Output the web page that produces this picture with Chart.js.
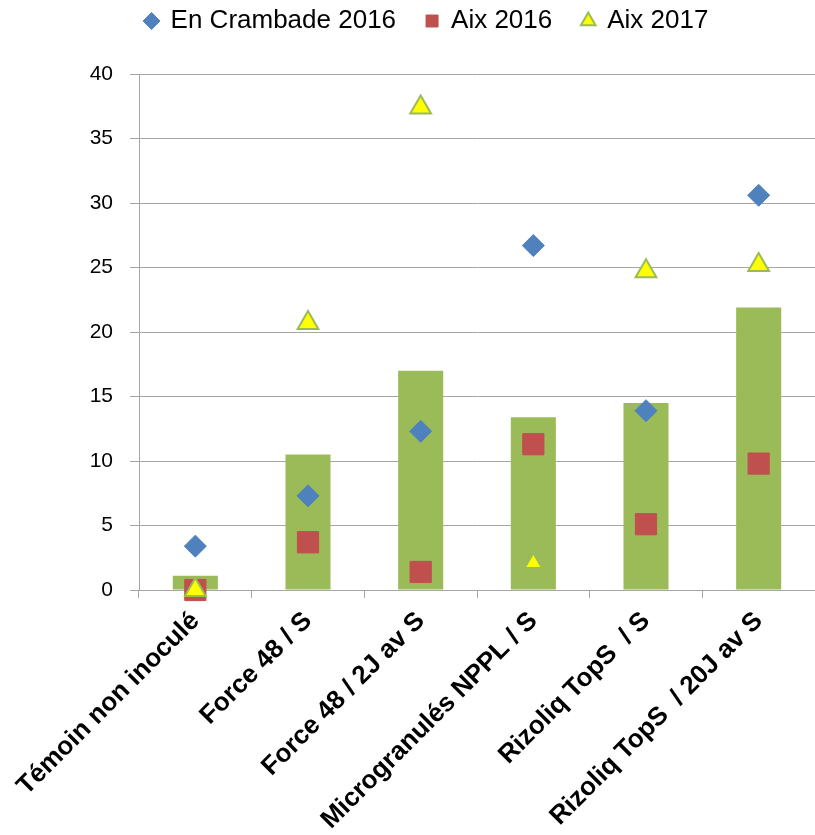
<!DOCTYPE html>
<html lang="fr">
<head>
<meta charset="utf-8">
<title>Essai inoculation</title>
<script src="https://cdn.jsdelivr.net/npm/chart.js@4/dist/chart.umd.min.js"></script>
<style>
  html, body { margin: 0; padding: 0; background: #fff; overflow: hidden; }
  .chart-area { position: relative; width: 815px; height: 835px; }
  #inoculChart { display: block; }
</style>
</head>
<body>
<div class="chart-area">
  <canvas id="inoculChart"></canvas>
</div>
<script>
// Modalités testées
const categories = [
    'Témoin non inoculé',
    'Force 48 / S',
    'Force 48 / 2J av S',
    'Microgranulés NPPL / S',
    'Rizoliq TopS  / S',
    'Rizoliq TopS  / 20J av S'
];

// Moyenne (barres)
const moyenne = [1.1, 10.5, 17.0, 13.4, 14.5, 21.9];

// Résultats par site / année
const enCrambade2016 = [3.4, 7.3, 12.3, 26.7, 13.9, 30.6];
const aix2016 = [0, 3.7, 1.4, 11.3, 5.1, 9.8];
const aix2017 = [0, 20.7, 37.4, 2.1, 24.7, 25.2];

// Graduations de l'axe Y
const yMin = 0;
const yMax = 40;
const yStep = 5;

const grisAxe = '#a6a6a6';
const police = "'Liberation Sans', Arial, sans-serif";

function renderChart() {
    const chartCanvas = document.getElementById('inoculChart');
    if (!chartCanvas) return;
    const ctx = chartCanvas.getContext('2d');

    new Chart(ctx, {
        type: 'bar',
        data: {
            labels: categories,
            datasets: [
                {
                    type: 'line',
                    label: 'En Crambade 2016',
                    data: enCrambade2016,
                    showLine: false,
                    pointStyle: 'rectRot',
                    pointRadius: 11,
                    pointHoverRadius: 11,
                    pointBackgroundColor: '#4F81BD',
                    pointBorderColor: '#4F81BD',
                    pointBorderWidth: 1,
                    clip: false,
                    order: 3
                },
                {
                    type: 'line',
                    label: 'Aix 2016',
                    data: aix2016,
                    showLine: false,
                    pointStyle: 'rect',
                    pointRadius: 15,
                    pointHoverRadius: 15,
                    pointBackgroundColor: '#C0504D',
                    pointBorderColor: '#C0504D',
                    pointBorderWidth: 1,
                    clip: false,
                    order: 2
                },
                {
                    type: 'line',
                    label: 'Aix 2017',
                    data: aix2017,
                    showLine: false,
                    pointStyle: 'triangle',
                    // le point "Microgranulés" est plus petit et sans bordure
                    pointRadius: [12, 12, 12, 8, 12, 12],
                    pointHoverRadius: [12, 12, 12, 8, 12, 12],
                    pointBackgroundColor: '#FFFF00',
                    pointBorderColor: '#9BBB59',
                    pointBorderWidth: [2, 2, 2, 0, 2, 2],
                    clip: false,
                    order: 1
                },
                {
                    type: 'bar',
                    label: 'Moyenne',
                    data: moyenne,
                    backgroundColor: '#9BBB59',
                    borderWidth: 0,
                    barPercentage: 0.4,
                    categoryPercentage: 1.0,
                    order: 4
                }
            ]
        },
        options: {
            responsive: true,
            maintainAspectRatio: false,
            animation: false,
            layout: {
                autoPadding: false,
                padding: { left: 33, right: -6, top: -22, bottom: 0 }
            },
            scales: {
                x: {
                    offset: true,
                    grid: {
                        offset: true,
                        drawOnChartArea: false,
                        color: grisAxe,
                        tickLength: 8
                    },
                    border: { color: grisAxe, width: 1 },
                    ticks: {
                        autoSkip: false,
                        maxRotation: 45,
                        minRotation: 45,
                        padding: 8,
                        color: '#000',
                        font: { family: police, size: 26, weight: 'bold' }
                    },
                    afterFit: function(scale) {
                        // hauteur fixe pour les libellés inclinés, la grille dépasse un peu à droite
                        scale.height = 245;
                        scale.paddingLeft = 0;
                        scale.paddingRight = -6;
                    }
                },
                y: {
                    min: yMin,
                    max: yMax,
                    ticks: {
                        stepSize: yStep,
                        padding: 17,
                        color: '#000',
                        font: { family: police, size: 21 }
                    },
                    grid: {
                        color: grisAxe,
                        tickLength: 9
                    },
                    border: { color: grisAxe, width: 1 },
                    afterFit: function(scale) {
                        scale.width = 106;
                        scale.paddingTop = 0;
                        scale.paddingBottom = 0;
                        scale.paddingRight = -6;
                    }
                }
            },
            plugins: {
                legend: {
                    position: 'top',
                    labels: {
                        usePointStyle: true,
                        boxHeight: 12,
                        boxWidth: 12,
                        padding: 30,
                        color: '#000',
                        font: { family: police, size: 26 },
                        filter: (item) => item.text !== 'Moyenne',
                        sort: (a, b) => a.datasetIndex - b.datasetIndex
                    }
                },
                // espace vide entre la légende et la zone du graphique
                title: {
                    display: true,
                    text: ' ',
                    position: 'top',
                    weight: 500,
                    font: { size: 10 },
                    padding: { top: 0, bottom: 18 }
                },
                tooltip: { enabled: false }
            }
        }
    });
}

document.addEventListener('DOMContentLoaded', renderChart);
</script>
</body>
</html>
